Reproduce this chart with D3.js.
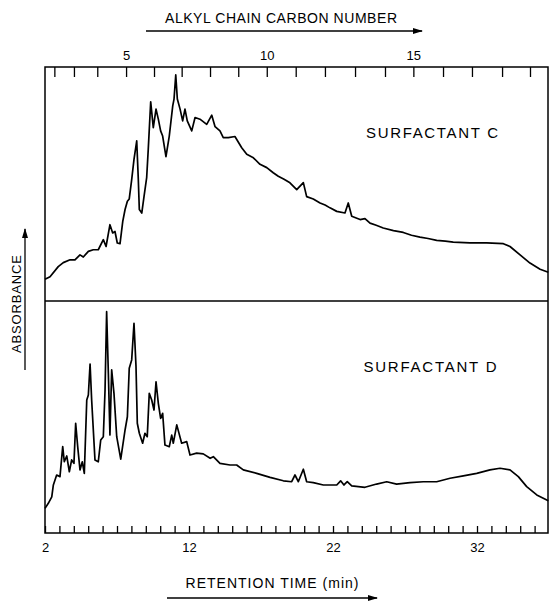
<!DOCTYPE html>
<html>
<head>
<meta charset="utf-8">
<script src="https://cdn.jsdelivr.net/npm/d3@7"></script>
<style>
  body { margin: 0; background: #fff; }
  svg { display: block; font-family: "Liberation Sans", Arial, sans-serif; }
  .axis path { display: none; }
  .axis line { stroke: #000; stroke-width: 1.3; }
  .axis text { font-size: 13px; fill: #000; }
</style>
</head>
<body>
<svg id="chart" width="551" height="601"></svg>
<script>
// Chromatograms: [retention time (min), absorbance (rel. units)]
const surfactantC = [
  [2.00, 9.3], [2.35, 10.4], [2.92, 14.7], [3.27, 16.4], [3.74, 17.6], [4.08, 17.6],
  [4.43, 19.7], [4.66, 18.8], [5.01, 21.2], [5.35, 21.9], [5.70, 21.9], [6.05, 26.2],
  [6.24, 23.3], [6.51, 32.6], [6.70, 29.1], [6.86, 29.7], [7.02, 24.8], [7.21, 24.5],
  [7.40, 34.0], [7.56, 39.1], [7.72, 42.6], [7.85, 43.6], [8.02, 51.9], [8.18, 60.5],
  [8.37, 68.4], [8.48, 51.9], [8.55, 39.1], [8.72, 37.6], [8.88, 44.8], [9.06, 52.7],
  [9.17, 64.8], [9.34, 85.1], [9.52, 74.1], [9.71, 82.0], [9.87, 77.7], [10.03, 72.7],
  [10.17, 70.5], [10.40, 61.7], [10.63, 70.5], [10.87, 83.4], [10.96, 86.3], [11.08, 96.6],
  [11.19, 86.3], [11.38, 82.0], [11.56, 77.0], [11.72, 82.0], [11.88, 77.0], [12.19, 72.7],
  [12.42, 78.4], [12.76, 77.7], [13.23, 75.5], [13.58, 79.4], [13.81, 74.5], [14.15, 72.7],
  [14.38, 69.8], [14.73, 69.8], [15.19, 70.3], [15.66, 65.5], [16.01, 62.7], [16.47, 61.2],
  [16.93, 58.4], [17.40, 57.0], [17.85, 54.8], [18.20, 53.3], [18.60, 52.0], [19.01, 50.5],
  [19.48, 47.6], [19.94, 50.6], [20.17, 44.6], [20.63, 43.6], [21.10, 41.9], [21.45, 41.0],
  [21.79, 39.8], [22.26, 38.3], [22.83, 37.6], [23.06, 41.9], [23.30, 36.2], [23.88, 34.8],
  [24.22, 35.2], [24.57, 33.3], [25.00, 32.4], [25.49, 31.2], [26.20, 30.1], [26.88, 29.3],
  [27.45, 28.1], [28.04, 27.3], [28.60, 26.7], [29.20, 25.9], [29.80, 25.6], [30.35, 25.2],
  [31.51, 24.8], [32.67, 24.8], [33.83, 24.5], [34.29, 23.3], [34.99, 19.7], [35.68, 16.2],
  [36.38, 13.6], [36.95, 12.3]
];

const surfactantD = [
  [2.00, 10.6], [2.23, 12.8], [2.47, 15.6], [2.58, 20.7], [2.81, 25.0], [3.04, 24.3],
  [3.23, 37.2], [3.34, 30.7], [3.51, 33.2], [3.69, 26.4], [3.85, 31.5], [4.01, 30.0],
  [4.13, 47.3], [4.27, 37.2], [4.43, 27.2], [4.59, 30.7], [4.73, 25.7], [4.90, 57.3],
  [5.01, 59.5], [5.13, 72.8], [5.24, 57.3], [5.47, 31.5], [5.70, 30.7], [5.87, 40.1],
  [6.05, 41.5], [6.17, 61.6], [6.28, 95.4], [6.40, 68.8], [6.51, 42.2], [6.63, 70.3],
  [6.79, 60.2], [6.98, 41.5], [7.26, 31.8], [7.56, 44.4], [7.72, 50.1], [7.85, 71.0],
  [8.02, 74.6], [8.18, 90.4], [8.32, 71.7], [8.41, 47.3], [8.55, 43.0], [8.78, 38.7],
  [8.94, 43.0], [9.10, 41.5], [9.24, 60.2], [9.41, 57.3], [9.57, 53.0], [9.71, 65.2],
  [9.87, 55.9], [10.03, 49.4], [10.17, 51.6], [10.33, 37.9], [10.63, 37.2], [10.80, 42.2],
  [10.91, 38.7], [11.15, 46.6], [11.49, 38.7], [11.84, 39.4], [12.07, 33.6], [12.53, 34.4],
  [12.99, 34.1], [13.47, 32.2], [13.69, 32.9], [14.15, 30.0], [14.85, 29.3], [15.31, 29.3],
  [15.77, 27.2], [16.70, 25.7], [17.63, 24.0], [18.55, 22.5], [19.13, 22.1], [19.36, 25.0],
  [19.59, 22.1], [19.94, 27.5], [20.17, 22.1], [20.63, 21.7], [21.33, 20.7], [22.26, 20.7],
  [22.53, 22.5], [22.76, 20.7], [22.99, 22.1], [23.30, 20.3], [24.22, 19.7], [25.03, 21.1],
  [25.73, 22.1], [26.42, 21.1], [27.35, 21.7], [28.27, 22.1], [29.20, 22.1], [30.13, 23.6],
  [31.05, 24.6], [31.98, 25.7], [32.90, 27.2], [33.60, 27.9], [34.29, 27.2], [34.87, 24.3],
  [35.45, 20.0], [36.15, 16.4], [36.95, 13.9]
];

// Alkyl chain carbon number ticks and the retention time where each falls
const carbonNumbers = [2, 3, 4, 5, 6, 7, 8, 9, 10, 11, 12, 13, 14, 15, 16, 17, 18, 19];
const carbonTimes = [2.65, 4.01, 5.63, 7.63, 9.57, 11.49, 13.46, 15.42, 17.40, 19.41,
                     21.44, 23.53, 25.61, 27.58, 29.64, 31.65, 33.74, 35.68];
const carbonLabels = [5, 10, 15];

const timeTicks = d3.range(2, 37);
const timeLabels = [2, 12, 22, 32];

const plotLeft = 45, plotRight = 548, plotTop = 67, plotMid = 301, plotBottom = 533;

const svg = d3.select('#chart');

const x = d3.scaleLinear().domain([2, 36.93]).range([plotLeft, plotRight]);
const yTop = d3.scaleLinear().domain([0, 100]).range([plotMid, plotTop]);
const yBot = d3.scaleLinear().domain([0, 100]).range([plotBottom, plotMid]);

// Top axis (carbon number)
const carbonAxis = d3.axisTop(x)
  .tickValues(carbonTimes)
  .tickSize(-10)
  .tickSizeOuter(0)
  .tickPadding(7)
  .tickFormat((d, i) => carbonLabels.includes(carbonNumbers[i]) ? carbonNumbers[i] : '');
svg.append('g').attr('class', 'axis').attr('transform', `translate(0,${plotTop})`).call(carbonAxis);

// Bottom axis (retention time)
const timeAxis = d3.axisBottom(x)
  .tickValues(timeTicks)
  .tickSize(-7)
  .tickSizeOuter(0)
  .tickPadding(10)
  .tickFormat(d => timeLabels.includes(d) ? d : '');
svg.append('g').attr('class', 'axis').attr('transform', `translate(0,${plotBottom})`).call(timeAxis);

// Frame and divider
svg.append('rect')
  .attr('x', plotLeft).attr('y', plotTop)
  .attr('width', plotRight - plotLeft).attr('height', plotBottom - plotTop)
  .attr('fill', 'none').attr('stroke', '#000').attr('stroke-width', 1.5);
svg.append('line')
  .attr('x1', plotLeft).attr('x2', plotRight).attr('y1', plotMid).attr('y2', plotMid)
  .attr('stroke', '#000').attr('stroke-width', 1.5);

// Traces
const lineC = d3.line().x(d => x(d[0])).y(d => yTop(d[1]));
const lineD = d3.line().x(d => x(d[0])).y(d => yBot(d[1]));

svg.append('path').datum(surfactantC).attr('d', lineC)
  .attr('fill', 'none').attr('stroke', '#000').attr('stroke-width', 1.7)
  .attr('stroke-linejoin', 'round');
svg.append('path').datum(surfactantD).attr('d', lineD)
  .attr('fill', 'none').attr('stroke', '#000').attr('stroke-width', 1.7)
  .attr('stroke-linejoin', 'round');

// Arrow marker
svg.append('defs').append('marker')
  .attr('id', 'arrow')
  .attr('viewBox', '0 0 10 6')
  .attr('refX', 9).attr('refY', 3)
  .attr('markerWidth', 10).attr('markerHeight', 6)
  .attr('markerUnits', 'userSpaceOnUse')
  .attr('orient', 'auto')
  .append('path').attr('d', 'M0,0L10,3L0,6Z').attr('fill', '#000');

function label(text, cx, cy, width, size, rotate) {
  const t = svg.append('text')
    .attr('text-anchor', 'middle')
    .attr('font-size', size)
    .attr('textLength', width)
    .attr('lengthAdjust', 'spacing')
    .text(text);
  if (rotate) t.attr('transform', `translate(${cx},${cy}) rotate(-90)`);
  else t.attr('x', cx).attr('y', cy);
  return t;
}

function arrow(x1, y1, x2, y2) {
  svg.append('line')
    .attr('x1', x1).attr('y1', y1).attr('x2', x2).attr('y2', y2)
    .attr('stroke', '#000').attr('stroke-width', 1.3)
    .attr('marker-end', 'url(#arrow)');
}

label('ALKYL CHAIN CARBON NUMBER', 281, 23, 232, 14);
arrow(146, 31, 422, 31);

label('RETENTION TIME (min)', 272, 588, 173, 14);
arrow(167, 598, 377, 598);

label('ABSORBANCE', 21, 304, 98, 13, true);
arrow(25, 370, 25, 229);

label('SURFACTANT C', 432, 138, 132, 15);
label('SURFACTANT D', 430, 372, 133, 15);
</script>
</body>
</html>
